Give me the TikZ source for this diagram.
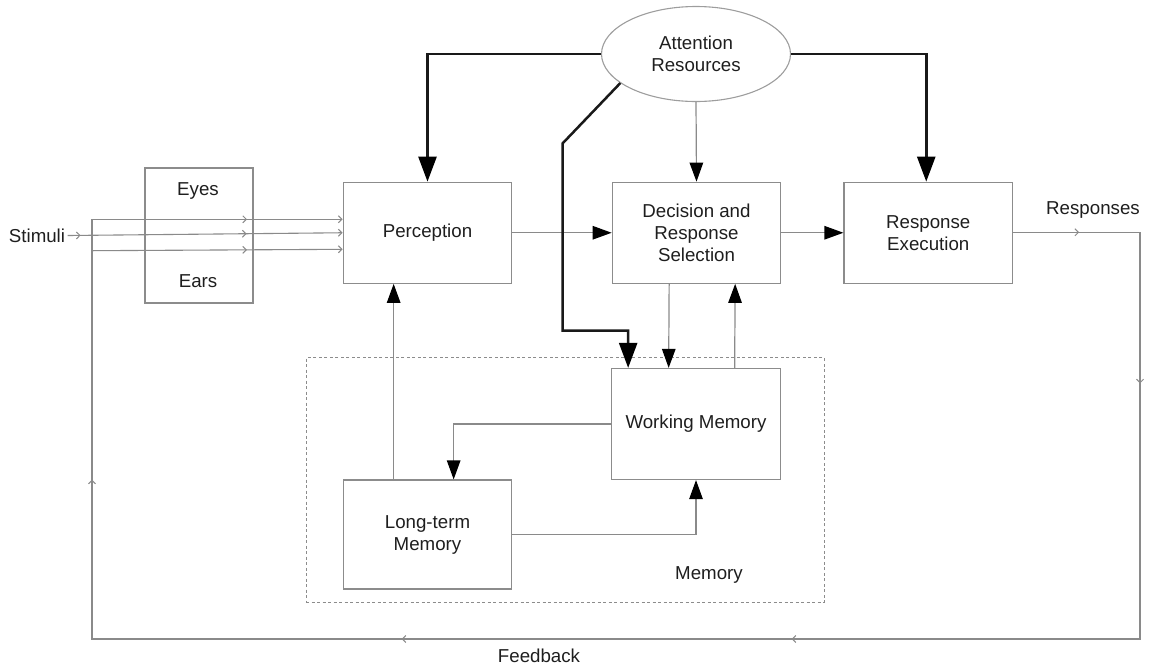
\documentclass[tikz,border=0pt]{standalone}
\usepackage{fontspec}
\setmainfont{Liberation Sans}
\usetikzlibrary{arrows.meta,shapes.geometric,calc,decorations.markings}
\definecolor{boxgray}{HTML}{8C8C8C}
\definecolor{linegray}{HTML}{8A8A8A}
\definecolor{txt}{HTML}{1E1E1E}
\begin{document}
\begin{tikzpicture}[x=1pt,y=-1pt,
  every node/.style={text=txt,font=\fontsize{18.7}{22}\selectfont,align=center},
  blk/.style={draw=boxgray,line width=1.2pt,rectangle,inner sep=0pt,minimum width=168.5pt},
  thin/.style={draw=linegray,line width=1.2pt,-{Triangle[length=19pt,width=13.5pt,fill=black,color=black]}},
  bold/.style={draw=black!90,line width=2.5pt,-{Triangle[length=25pt,width=18pt,fill=black,color=black]}},
  barb/.style={draw=linegray,line width=1.1pt},
  tip/.style={-{Straight Barb[length=3.5pt,width=7pt]}},
  midarr/.style={postaction={decorate,decoration={markings,mark=at position #1 with {\arrow[linegray,line width=1pt]{Straight Barb[length=3.5pt,width=7pt]}}}}},
]
\useasboundingbox (0,0) rectangle (1150,665);

% nodes
\node[draw=boxgray!85,line width=1.1pt,ellipse,minimum width=189pt,minimum height=95pt,inner sep=0pt] (att) at (696,54) {Attention\\Resources};
\node[blk,minimum width=108pt,minimum height=135pt] (senses) at (199,235.5) {};
\node (eyes) at (198,191) {Eyes};
\node (ears) at (198,281) {Ears};
\node[blk,minimum height=101pt] (perc) at (427.5,232.75) {Perception};
\node[blk,minimum height=101pt] (dec) at (696.5,232.75) {Decision and\\Response\\Selection};
\node[blk,minimum width=168.5pt,minimum height=101pt] (resp) at (928.25,232.75) {Response\\Execution};
\node[draw=boxgray,line width=1pt,dash pattern=on 3pt off 2.5pt,rectangle,minimum width=518pt,minimum height=244.5pt,inner sep=0pt] (mem) at (565,479.75) {};
\node[blk,minimum height=111pt] (wm) at (696,424) {};
\node (wmt) at (wm.center) {Working Memory};
\node[blk,minimum height=109pt] (ltm) at (427.5,534.5) {Long-term\\Memory};
\node (memlbl) at (709,575) {Memory};
\node (stim) at (37,235.5) {Stimuli};
\node (resps) at (1093,210) {Responses};
\node (fb) at (539,656) {Feedback};

% coordinates
\coordinate (s1) at (92,219.3);
\coordinate (s3) at (92,250.7);
\coordinate (r1) at (1140,232.3);
\coordinate (r2) at (1140,639);
\coordinate (l2) at (92,639);
\coordinate (k1) at (562.5,143.5);
\coordinate (k2) at (562.5,330.5);

% stimuli lines
\draw[barb,tip,midarr=155pt] (s1) -- (perc.west |- s1);
\draw[barb,tip,midarr=13pt,midarr=179pt] ([xshift=-1pt]stim.east) -- ($(perc.west)+(0,0)$);
\draw[barb,tip,midarr=155pt] (s3) -- ($(perc.west |- s3)+(0,-1.4)$);

% feedback loop
\draw[barb,midarr=66pt,midarr=278pt,midarr=882pt,midarr=1272pt,midarr=1741pt]
  (resp.east |- r1) -- (r1) -- (r2) -- (l2) -- (s1);

% main flow
\draw[thin] (perc.east) -- (dec.west);
\draw[thin] (dec.east) -- (resp.west);
\draw[thin] (att.south) -- (dec.north);
\draw[thin] ([xshift=57.5pt]dec.south west) -- ([xshift=57.5pt]wm.north west);
\draw[thin] ([xshift=123.5pt]wm.north west) -- ([xshift=123.5pt]dec.south west);
\draw[thin] (wm.west) -| ([xshift=111pt]ltm.north west);
\draw[thin] (ltm.east) -| (wm.south);
\draw[thin] ([xshift=51pt]ltm.north west) -- ([xshift=51pt]perc.south west);

% attention arrows
\draw[bold] (att.west) -| (perc.north);
\draw[bold] (att.east) -| ([xshift=-2pt]resp.north);
\draw[bold] (att.201.5) -- (k1) -- (k2) -| ([xshift=17pt]wm.north west);
\end{tikzpicture}
\end{document}
